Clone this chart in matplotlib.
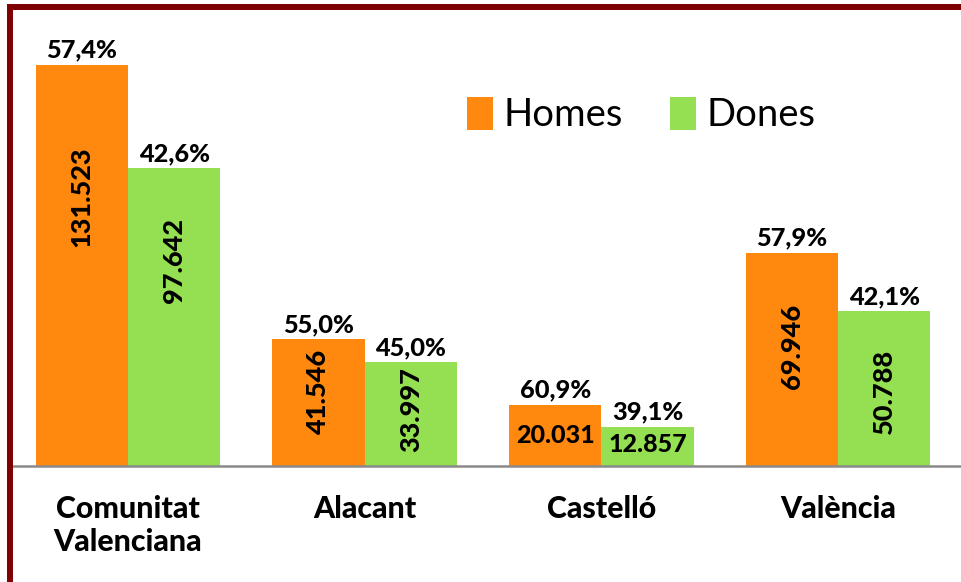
import matplotlib.pyplot as plt
from matplotlib.patches import Rectangle
import numpy as np

categories = ["Comunitat\nValenciana", "Alacant", "Castelló", "València"]
homes = [131523, 41546, 20031, 69946]
dones = [97642, 33997, 12857, 50788]
homes_pct = ["57,4%", "55,0%", "60,9%", "57,9%"]
dones_pct = ["42,6%", "45,0%", "39,1%", "42,1%"]

orange = "#FF880E"
green = "#94E052"
font = "Lato"
heavy = 900

fig = plt.figure(figsize=(9.61, 5.82), dpi=100)
ax = fig.add_axes([12 / 961, 116 / 582, 949 / 961, 456 / 582])

x = np.arange(len(categories))
w = 0.39
ax.bar(x - w / 2, homes, width=w, color=orange, label="Homes")
ax.bar(x + w / 2, dones, width=w, color=green, label="Dones")

ax.set_xlim(-0.49, 3.52)
ax.set_ylim(0, 149500)

# where the value inside each bar sits (fraction of bar height); Castelló is horizontal
homes_in = [0.67, 0.58, 0.5, 0.56]
dones_in = [0.69, 0.54, 0.54, 0.48]

for i in range(len(categories)):
    for xpos, val, pct, frac in [(x[i] - w / 2, homes[i], homes_pct[i], homes_in[i]),
                                 (x[i] + w / 2, dones[i], dones_pct[i], dones_in[i])]:
        ax.text(xpos, val + 1000, pct, ha="center", va="bottom", fontsize=18.3,
                fontweight=heavy, family=font)
        lab = f"{val:,}".replace(",", ".")
        horizontal = categories[i] == "Castelló"
        ax.text(xpos, val * frac, lab, ha="center", va="center",
                rotation=0 if horizontal else 90,
                fontsize=18 if horizontal else 19.5, fontweight=heavy, family=font)

ax.set_xticks(x)
ax.set_xticklabels(categories, fontsize=21.8, fontweight=heavy, family=font,
                   linespacing=1.2)
ax.tick_params(axis="x", length=0, pad=21)
ax.set_yticks([])
for s in ["top", "right", "left"]:
    ax.spines[s].set_visible(False)
ax.spines["bottom"].set_color("#8a8a8a")
ax.spines["bottom"].set_linewidth(1.8)

leg = ax.legend(loc="upper left", bbox_to_anchor=(0.443, 0.885), ncol=2, frameon=False,
                prop={"family": font, "size": 27.5}, handlelength=0.68, handleheight=0.95,
                handletextpad=0.27, columnspacing=1.24)

# dark red frame around the chart (only left and top edges fall inside the picture)
frame = Rectangle((9.5 / 961, -0.1), 1.2, 1.1 - 6.5 / 582, transform=fig.transFigure,
                  fill=False, edgecolor="#7F0000", linewidth=4.3, clip_on=False)
fig.patches.append(frame)

fig.savefig("out.png", dpi=100)
